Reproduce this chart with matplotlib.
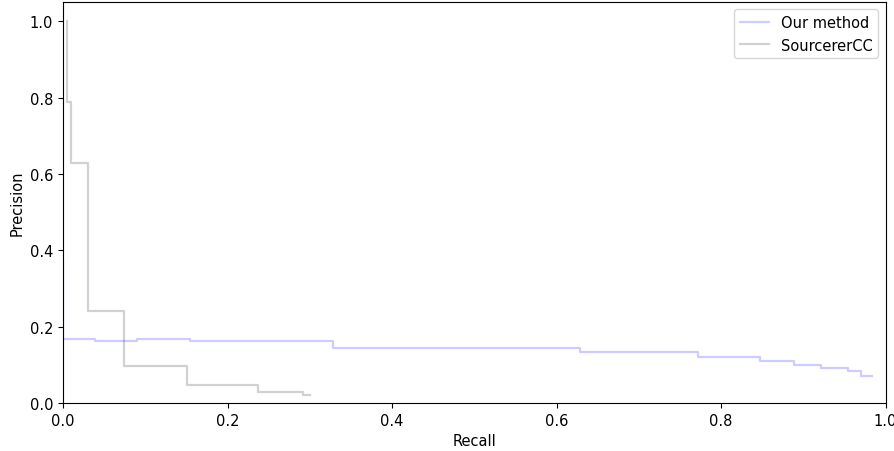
import numpy as np
import matplotlib
matplotlib.use("Agg")
import matplotlib.pyplot as plt

plt.rcParams["font.family"] = ["Liberation Sans Narrow", "DejaVu Sans"]
plt.rcParams["font.size"] = 10.5

# precision / recall points (step, where='post')
our_recall = [0.0, 0.0, 0.039, 0.090, 0.154, 0.328, 0.628, 0.772, 0.847, 0.889, 0.922, 0.954, 0.970, 0.984]
our_precision = [0.37, 0.168, 0.162, 0.167, 0.163, 0.144, 0.133, 0.121, 0.109, 0.100, 0.092, 0.085, 0.070, 0.070]

scc_recall = [0.005, 0.005, 0.010, 0.030, 0.074, 0.151, 0.237, 0.292, 0.300]
scc_precision = [1.0, 0.788, 0.628, 0.240, 0.098, 0.048, 0.030, 0.021, 0.021]

fig = plt.figure(figsize=(8.94, 4.52), dpi=100)
ax = fig.add_axes([0.0705, 0.106, 0.920, 0.887])

ax.step(our_recall, our_precision, where="post", color="b", alpha=0.2, linewidth=1.6, label="Our method")
ax.step(scc_recall, scc_precision, where="post", color="k", alpha=0.18, linewidth=1.6, label="SourcererCC")

ax.set_xlim(0.0, 1.0)
ax.set_ylim(0.0, 1.05)
ax.set_xlabel("Recall")
ax.set_ylabel("Precision")
ax.legend(loc="upper right")

fig.savefig("out.png", dpi=100)
